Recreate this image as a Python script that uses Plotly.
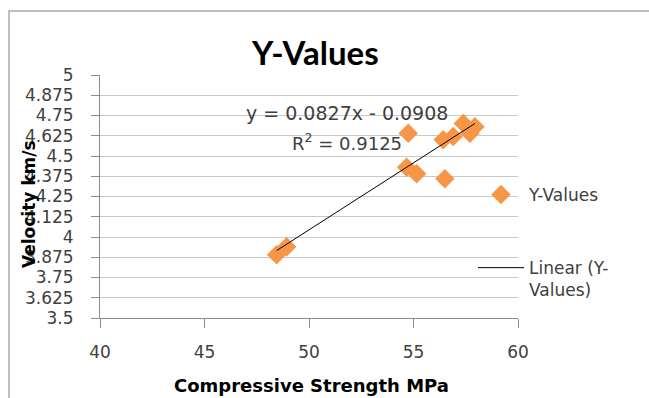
import plotly.graph_objects as go

# ---- data ----
strength = [48.45, 48.93, 54.75, 54.67, 55.15, 56.50, 56.42, 56.90, 57.38, 57.94, 57.70]
velocity = [3.89, 3.94, 4.64, 4.43, 4.39, 4.36, 4.60, 4.62, 4.70, 4.68, 4.64]
slope = 0.0827
intercept = -0.0908
r2 = 0.9125
x_ticks = [40, 45, 50, 55, 60]
y_ticks = [3.5, 3.625, 3.75, 3.875, 4, 4.125, 4.25, 4.375, 4.5, 4.625, 4.75, 4.875, 5]
y_ticklabels = ["3.5", "3.625", "3.75", "3.875", "4", "4.125", "4.25", "4.375", "4.5", "4.625", "4.75", "4.875", "5"]

FONT = "DejaVu Sans"
TXT = "#404040"
ORANGE = "#F79646"

trend_x = [min(strength), max(strength)]
trend_y = [slope * v + intercept for v in trend_x]

fig = go.Figure()
fig.add_trace(go.Scatter(
    x=strength, y=velocity, mode="markers", name="Y-Values",
    marker=dict(symbol="diamond", size=15, color=ORANGE, line=dict(width=0)),
    legendgroup="a",
))
fig.add_trace(go.Scatter(
    x=trend_x, y=trend_y, mode="lines", name="Linear (Y-<br>Values)",
    line=dict(color="#000000", width=1),
    legendgroup="b",
))

fig.update_layout(
    width=649, height=398,
    margin=dict(l=100, r=131, t=75, b=80),
    paper_bgcolor="white", plot_bgcolor="white",
    font=dict(family=FONT, size=17, color=TXT),
    showlegend=True,
    legend=dict(
        x=(473 - 100) / 418, xanchor="left", y=(318 - 177) / 243, yanchor="top",
        font=dict(family=FONT, size=17, color=TXT),
        tracegroupgap=48, itemwidth=46, bgcolor="rgba(0,0,0,0)",
        valign="top",
    ),
    xaxis=dict(
        range=[40, 60], tickvals=x_ticks, ticktext=[str(t) for t in x_ticks],
        showgrid=False, zeroline=False,
        showline=True, linecolor="#8c8c8c", linewidth=1,
        ticks="outside", ticklen=9, tickcolor="#8c8c8c",
        ticklabelstandoff=10,
        tickfont=dict(family=FONT, size=17, color=TXT),
    ),
    yaxis=dict(
        range=[3.5, 5], tickvals=y_ticks, ticktext=y_ticklabels,
        showgrid=True, gridcolor="#c8c8c8", gridwidth=1, zeroline=False,
        showline=True, linecolor="#8c8c8c", linewidth=1,
        ticks="outside", ticklen=8, tickcolor="#8c8c8c",
        ticklabelstandoff=14,
        tickfont=dict(family=FONT, size=17, color=TXT),
    ),
    shapes=[
        dict(type="rect", xref="paper", yref="paper",
             x0=(9 - 100) / 418, x1=(700 - 100) / 418,
             y0=-(450 - 318) / 243, y1=1 + (75 - 11) / 243,
             line=dict(color="#bfbfbf", width=2), fillcolor="rgba(0,0,0,0)", layer="below"),
    ],
    annotations=[
        dict(text="<b>Y-Values</b>", xref="paper", yref="paper",
             x=(315 - 100) / 418, y=1 + (75 - 52) / 243, xanchor="center", yanchor="middle",
             showarrow=False, font=dict(family="Lato", size=33, color="#000000")),
        dict(text="<b>Velocity km/s</b>", xref="paper", yref="paper",
             x=(29 - 100) / 418, y=(318 - 204) / 243, xanchor="center", yanchor="middle",
             textangle=-90, showarrow=False, font=dict(family=FONT, size=17, color="#000000")),
        dict(text="<b>Compressive Strength MPa</b>", xref="paper", yref="paper",
             x=(311 - 100) / 418, y=-(385 - 318) / 243, xanchor="center", yanchor="middle",
             showarrow=False, font=dict(family=FONT, size=18, color="#000000")),
        dict(text=f"y = {slope}x - {abs(intercept)}", xref="paper", yref="paper",
             x=(347 - 100) / 418, y=(318 - 113) / 243, xanchor="center", yanchor="middle",
             showarrow=False, font=dict(family=FONT, size=19, color=TXT)),
        dict(text=f"R<sup>2</sup> = {r2}", xref="paper", yref="paper",
             x=(347 - 100) / 418, y=(318 - 142) / 243, xanchor="center", yanchor="middle",
             showarrow=False, font=dict(family=FONT, size=18, color=TXT)),
    ],
)

fig.write_html("out.html")
